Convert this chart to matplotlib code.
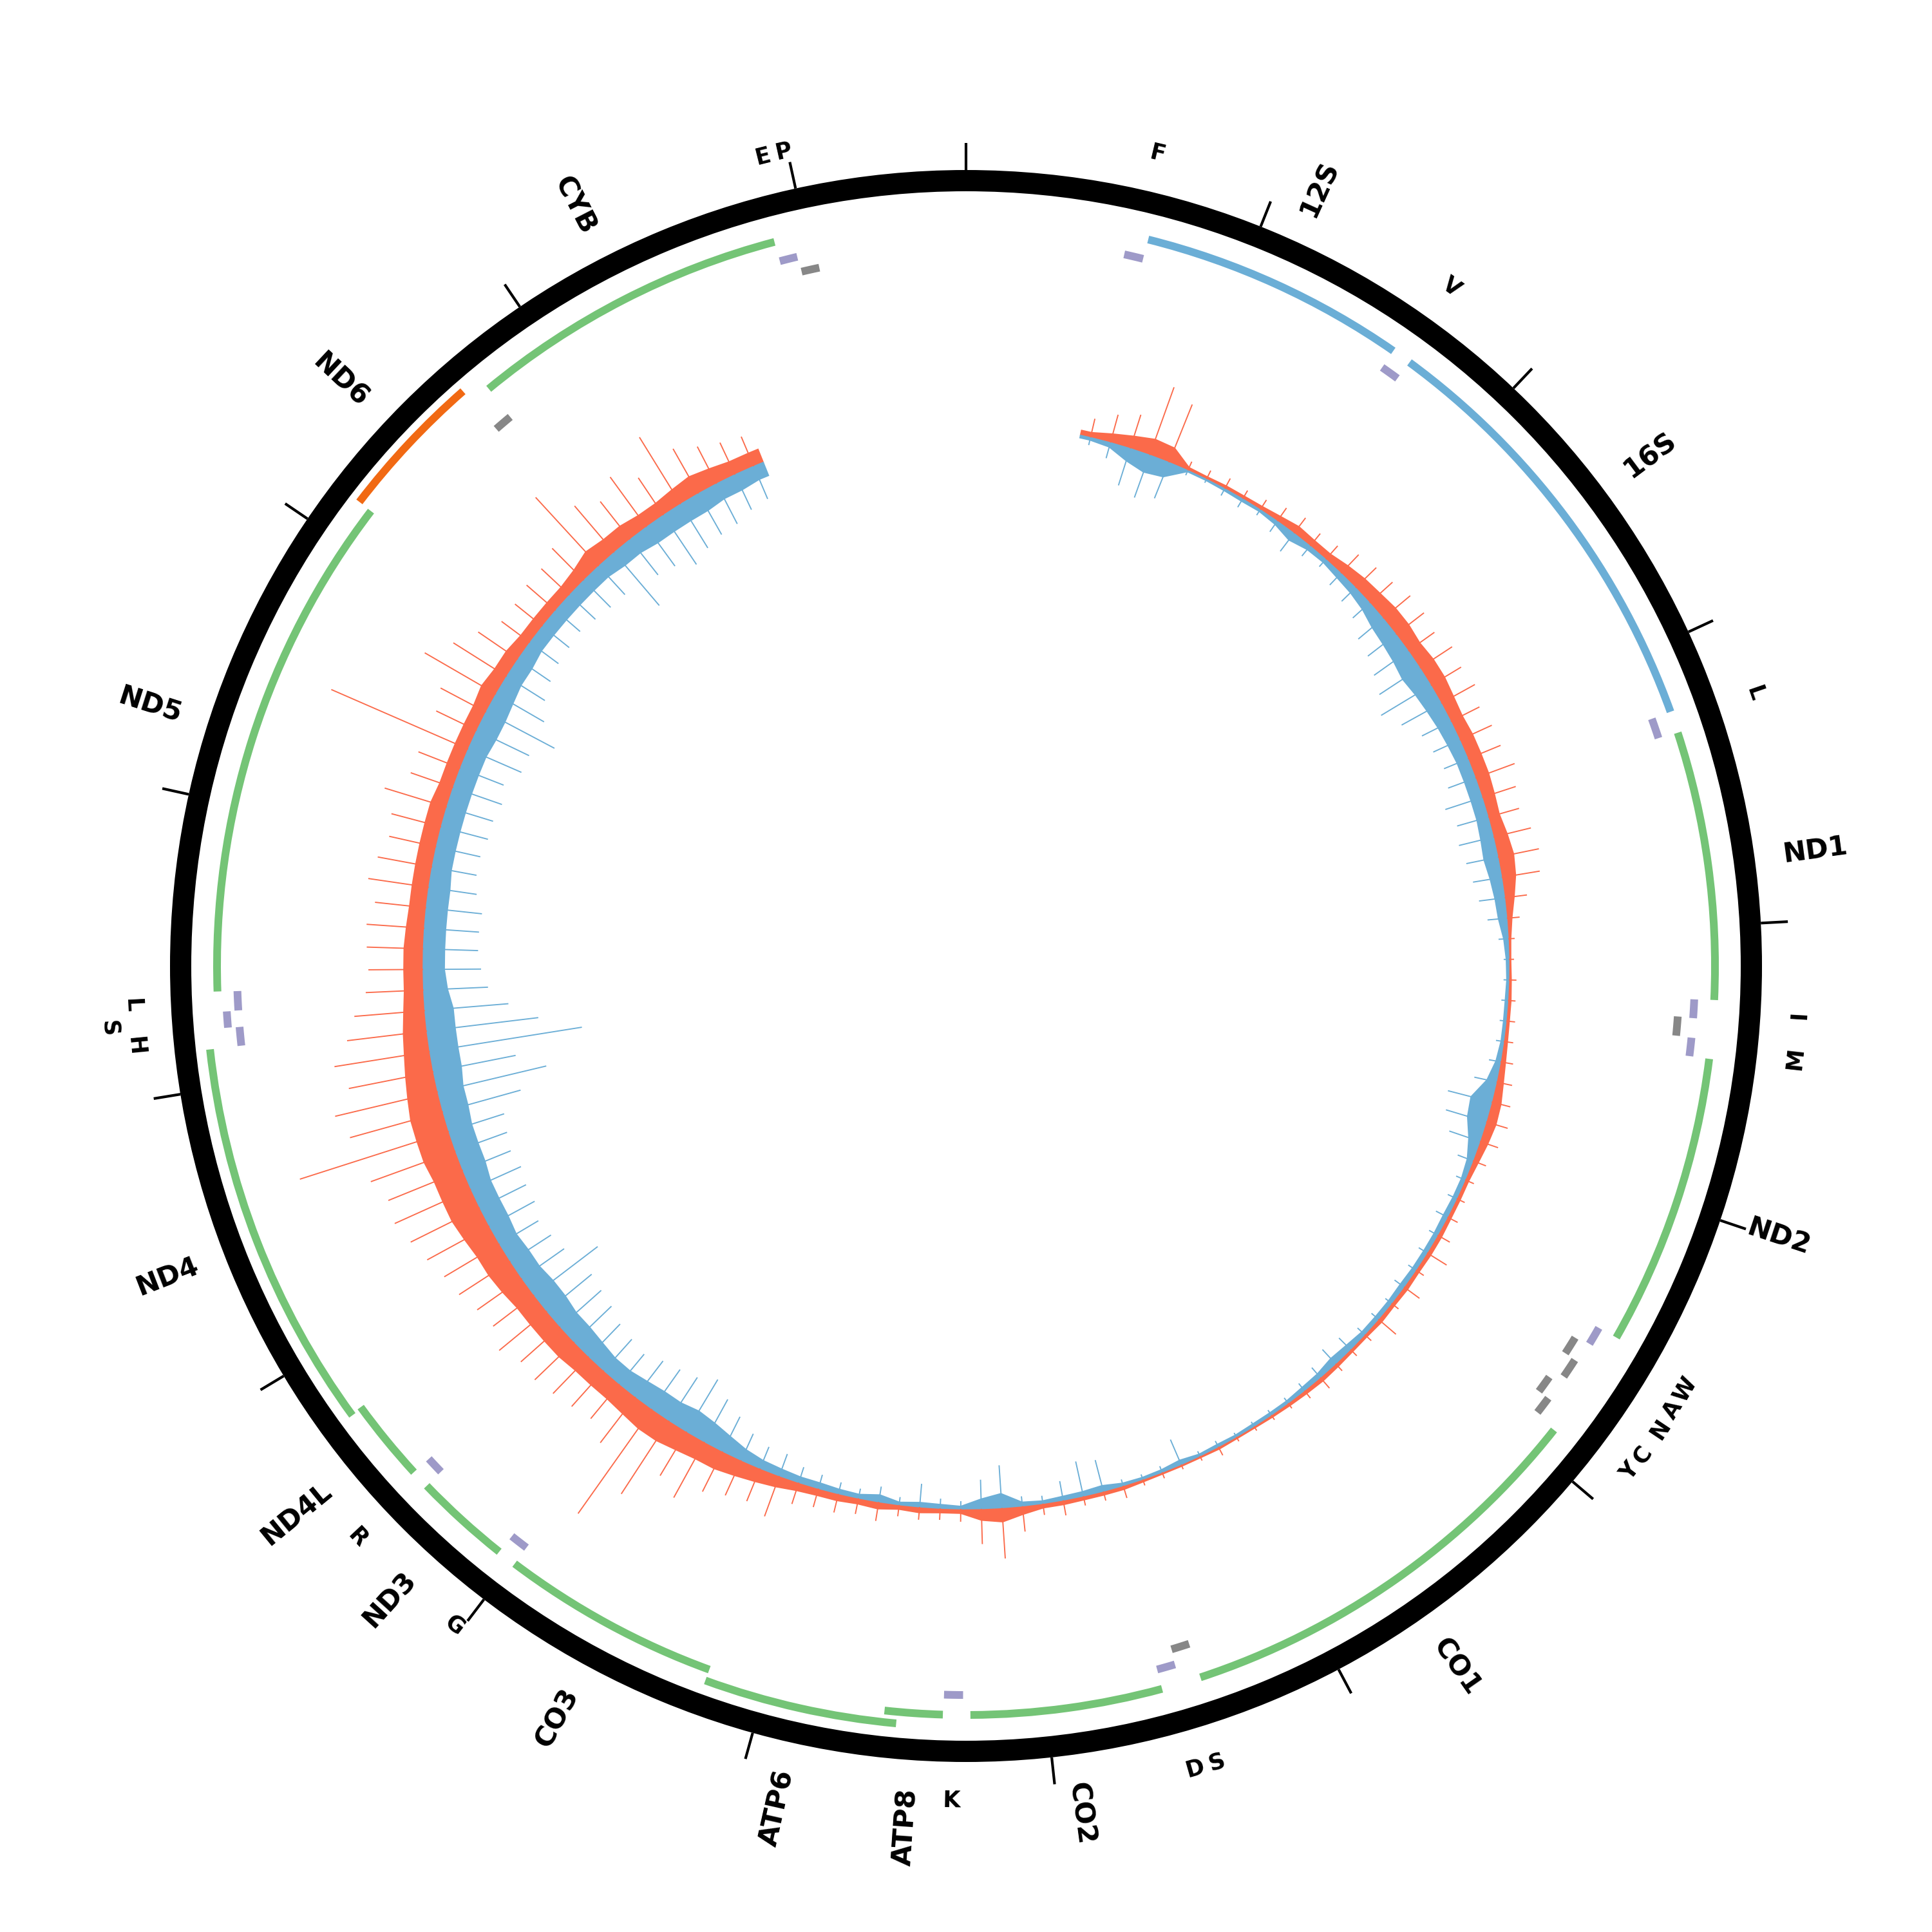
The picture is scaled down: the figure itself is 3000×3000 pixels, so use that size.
import numpy as np
import matplotlib
matplotlib.use("Agg")
import matplotlib.pyplot as plt

# ---------------- data ----------------
GENOME_LEN = 16569

gene_names = ["12S", "16S", "ND1", "ND2", "CO1", "CO2", "ATP8", "ATP6", "CO3",
              "ND3", "ND4L", "ND4", "ND5", "ND6", "CYB"]
gene_start = [648, 1671, 3307, 4470, 5904, 7586, 8366, 8527, 9207,
              10059, 10470, 10760, 12337, 14149, 14747]
gene_end = [1601, 3229, 4262, 5511, 7445, 8269, 8572, 9207, 9990,
            10404, 10766, 12137, 14148, 14673, 15887]
gene_strand = ["H", "H", "H", "H", "H", "H", "H", "H", "H",
               "H", "H", "H", "H", "L", "H"]
gene_kind = ["rRNA", "rRNA", "CDS", "CDS", "CDS", "CDS", "CDS", "CDS", "CDS",
             "CDS", "CDS", "CDS", "CDS", "CDS", "CDS"]

trna_names = ["F", "V", "L", "I", "Q", "M", "W", "A", "N", "C", "Y",
              "S", "D", "K", "G", "R", "H", "S", "L", "E", "T", "P"]
trna_start = [577, 1602, 3230, 4263, 4329, 4402, 5512, 5587, 5657, 5761, 5826,
              7446, 7518, 8295, 9991, 10405, 12138, 12207, 12266, 14674, 15888, 15956]
trna_end = [647, 1670, 3304, 4331, 4400, 4469, 5579, 5655, 5729, 5826, 5891,
            7514, 7585, 8364, 10058, 10469, 12206, 12265, 12336, 14742, 15953, 16023]
trna_strand = ["H", "H", "H", "H", "L", "H", "H", "L", "L", "L", "L",
               "L", "H", "H", "H", "H", "H", "H", "H", "L", "H", "L"]
trna_label = ["F", "V", "L", "I", "", "M", "W", "A", "N", "C", "Y",
              "S", "D", "K", "G", "R", "H", "S", "L", "", "E", "P"]

tick_positions = list(range(0, 16001, 1000))

# coverage in 100-bp windows starting at COV_START (typical level and peak)
COV_START = 560
COV_STEP = 100
fwd_mean = [8, 14, 20, 26, 24, 5, 4, 5, 5, 6,
            9, 13, 11, 11, 16, 20, 22, 25, 25, 22,
            25, 25, 22, 20, 22, 22, 22, 20, 18, 22,
            25, 22, 15, 8, 4, 3, 4, 5, 5, 6,
            8, 11, 15, 16, 13, 9, 6, 6, 6, 7,
            7, 6, 7, 6, 7, 5, 5, 6, 7, 6,
            5, 4, 3, 3, 4, 3, 3, 3, 4, 6,
            6, 6, 7, 7, 13, 22, 18, 7, 7, 9,
            7, 11, 9, 11, 11, 13, 18, 22, 26, 30,
            30, 33, 37, 37, 33, 30, 30, 30, 33, 33,
            33, 33, 37, 40, 40, 44, 48, 48, 48, 52,
            52, 52, 48, 44, 40, 37, 33, 30, 30, 30,
            28, 26, 26, 26, 26, 26, 26, 22, 22, 22,
            22, 22, 26, 22, 22, 18, 18, 18, 18, 22,
            30, 26, 26, 22, 22, 26, 30, 26, 22, 22]
fwd_max = [30, 45, 55, 112, 97, 15, 15, 18, 15, 18,
           25, 30, 25, 28, 40, 45, 48, 55, 55, 50,
           60, 55, 60, 50, 55, 55, 65, 55, 50, 60,
           65, 60, 35, 20, 10, 8, 12, 12, 14, 15,
           20, 25, 30, 35, 30, 22, 15, 14, 18, 22,
           36, 15, 30, 14, 36, 14, 14, 15, 22, 15,
           10, 9, 8, 8, 15, 8, 8, 10, 10, 20,
           15, 15, 24, 18, 40, 79, 55, 20, 18, 20,
           18, 30, 25, 30, 30, 35, 67, 55, 60, 70,
           99, 80, 136, 199, 90, 70, 75, 80, 85, 82,
           96, 80, 85, 95, 100, 110, 120, 130, 125, 140,
           243, 150, 164, 134, 150, 125, 110, 90, 85, 88,
           90, 80, 95, 86, 75, 80, 101, 70, 70, 232,
           70, 80, 128, 98, 75, 55, 55, 60, 60, 70,
           145, 95, 75, 96, 70, 122, 80, 65, 55, 50]
rev_mean = [4, 7, 20, 28, 24, 2, 2, 3, 4, 3,
            6, 13, 7, 6, 9, 11, 15, 22, 25, 28,
            32, 28, 25, 22, 20, 18, 18, 18, 18, 20,
            22, 18, 15, 13, 7, 4, 3, 4, 4, 4,
            7, 15, 33, 30, 18, 9, 6, 6, 7, 6,
            6, 6, 7, 6, 6, 6, 9, 11, 7, 6,
            4, 4, 4, 3, 4, 3, 7, 4, 3, 4,
            9, 7, 6, 4, 6, 22, 15, 4, 6, 7,
            4, 11, 6, 7, 9, 9, 11, 13, 18, 26,
            33, 37, 33, 33, 30, 26, 26, 30, 33, 33,
            37, 37, 33, 33, 30, 33, 33, 33, 37, 37,
            37, 40, 40, 44, 44, 44, 44, 37, 33, 33,
            33, 33, 33, 30, 30, 30, 30, 30, 30, 30,
            33, 33, 30, 26, 26, 22, 22, 22, 22, 22,
            22, 26, 26, 30, 30, 30, 30, 26, 26, 22]
rev_max = [12, 25, 60, 70, 60, 8, 6, 12, 15, 10,
           20, 35, 20, 15, 25, 30, 35, 50, 55, 65,
           75, 90, 70, 50, 45, 40, 45, 60, 50, 55,
           50, 45, 40, 30, 15, 8, 8, 10, 10, 12,
           18, 35, 70, 65, 50, 25, 15, 15, 20, 15,
           15, 14, 18, 12, 14, 15, 25, 30, 20, 14,
           10, 9, 8, 7, 10, 8, 42, 10, 8, 10,
           50, 55, 30, 12, 15, 66, 45, 12, 15, 36,
           12, 24, 15, 18, 22, 25, 36, 36, 45, 60,
           75, 94, 80, 75, 70, 60, 65, 70, 80, 85,
           90, 124, 80, 75, 70, 80, 80, 85, 80, 85,
           90, 125, 173, 130, 239, 174, 130, 100, 90, 85,
           85, 87, 75, 70, 70, 75, 75, 80, 72, 90,
           90, 120, 86, 70, 61, 55, 53, 50, 55, 59,
           60, 108, 70, 75, 92, 80, 73, 70, 60, 55]

# ---------------- style / layout ----------------
RED = "#fb6a4a"
BLUE = "#6baed6"
GREEN = "#74c476"
PURPLE = "#9e9ac8"
GREY = "#878787"
ORANGE = "#f16913"

R_RING_IN, R_RING_OUT = 1203, 1236
TICK_IN, TICK_OUT = 1236, 1278
R_GENE = {"H": 1163, "L": 1186}
R_TRNA = {"H": 1132, "L": 1108}
BAR_W = 12
BUMP = 18
R_LABEL_GENE = 1280
R_LABEL_TRNA = 1296
LABEL_BUMP = 38
R_BASE = 843


def bp2deg(bp):
    return np.asarray(bp, dtype=float) / GENOME_LEN * 360.0


def stack_levels(starts, ends, groups):
    levels, last = [], {}
    for s, e, g in zip(starts, ends, groups):
        lvl = 0
        if g in last:
            pe, pl = last[g]
            if s - pe <= 5 and pl == 0:
                lvl = 1
        levels.append(lvl)
        last[g] = (e, lvl)
    return levels


def radial_rot(d):
    d = d % 360
    if d <= 180:
        return 90 - d, "left"
    return 270 - d, "right"


def tang_rot(d):
    d = d % 360
    if 90 < d < 270:
        return 180 - d
    return -d


fig = plt.figure(figsize=(10, 10), dpi=300)
fig.patch.set_facecolor("white")
ax = fig.add_axes([0, 0, 1, 1], projection="polar")
ax.set_theta_zero_location("N")
ax.set_theta_direction(-1)
ax.set_axis_off()

# outer black ring
ax.bar(0, R_RING_OUT - R_RING_IN, width=2 * np.pi, bottom=R_RING_IN,
       color="black", linewidth=0)
# ticks
tt = np.deg2rad(bp2deg(tick_positions))
ax.vlines(tt, TICK_IN, TICK_OUT, colors="black", lw=1.0)

# genes
glev = stack_levels(gene_start, gene_end, gene_strand)
for name, s, e, st, kind, lv in zip(gene_names, gene_start, gene_end,
                                      gene_strand, gene_kind, glev):
    d0, d1 = bp2deg(s), bp2deg(e)
    if kind == "rRNA":
        col = BLUE
    elif st == "L":
        col = ORANGE
    else:
        col = GREEN
    rc = R_GENE[st] + BUMP * lv
    ax.bar(np.deg2rad((d0 + d1) / 2), BAR_W, width=np.deg2rad(d1 - d0),
           bottom=rc - BAR_W / 2, color=col, linewidth=0)
    dm = (d0 + d1) / 2
    rot, ha = radial_rot(dm)
    ax.text(np.deg2rad(dm), R_LABEL_GENE, name, rotation=rot,
            rotation_mode="anchor", ha=ha, va="center",
            fontsize=10.3, fontweight="bold", color="black",
            family="DejaVu Sans")

# tRNAs
tlev = stack_levels(trna_start, trna_end, trna_strand)
for lab, s, e, st, lv in zip(trna_label, trna_start, trna_end, trna_strand, tlev):
    d0, d1 = bp2deg(s), bp2deg(e)
    col = PURPLE if st == "H" else GREY
    rc = R_TRNA[st] + BUMP * lv
    ax.bar(np.deg2rad((d0 + d1) / 2), BAR_W, width=np.deg2rad(d1 - d0),
           bottom=rc - BAR_W / 2, color=col, linewidth=0)
    if lab:
        dm = (d0 + d1) / 2
        rl = R_LABEL_TRNA + (LABEL_BUMP * lv if st == "H" else 0)
        ax.text(np.deg2rad(dm), rl, lab, rotation=tang_rot(dm),
                rotation_mode="anchor", ha="center", va="center",
                fontsize=8.4, fontweight="bold", color="black",
                family="DejaVu Sans")

# coverage: spikes (peaks) + typical-level band
n = len(fwd_mean)
centers_deg = bp2deg(COV_START + COV_STEP * (np.arange(n) + 0.5))
centers = np.deg2rad(centers_deg)
fm, fx = np.array(fwd_mean, float), np.array(fwd_max, float)
rm, rx = np.array(rev_mean, float), np.array(rev_max, float)
ax.vlines(centers, R_BASE, R_BASE + fx, colors=RED, lw=0.45)
ax.vlines(centers, R_BASE - rx, R_BASE, colors=BLUE, lw=0.45)

th0 = np.deg2rad(bp2deg(COV_START))
th1 = np.deg2rad(bp2deg(COV_START + COV_STEP * n))
band_th = np.concatenate([[th0], centers, [th1]])
f_edge = np.concatenate([[fm[0]], fm, [fm[-1]]])
r_edge = np.concatenate([[rm[0]], rm, [rm[-1]]])
base_line = np.full_like(band_th, R_BASE)
ax.fill(np.concatenate([band_th, band_th[::-1]]),
        np.concatenate([R_BASE + f_edge, base_line[::-1]]),
        color=RED, linewidth=0.4, edgecolor=RED)
ax.fill(np.concatenate([band_th, band_th[::-1]]),
        np.concatenate([base_line, (R_BASE - r_edge)[::-1]]),
        color=BLUE, linewidth=0.4, edgecolor=BLUE)

ax.set_ylim(0, 1500)
fig.savefig("out.png", dpi=300, facecolor="white")
